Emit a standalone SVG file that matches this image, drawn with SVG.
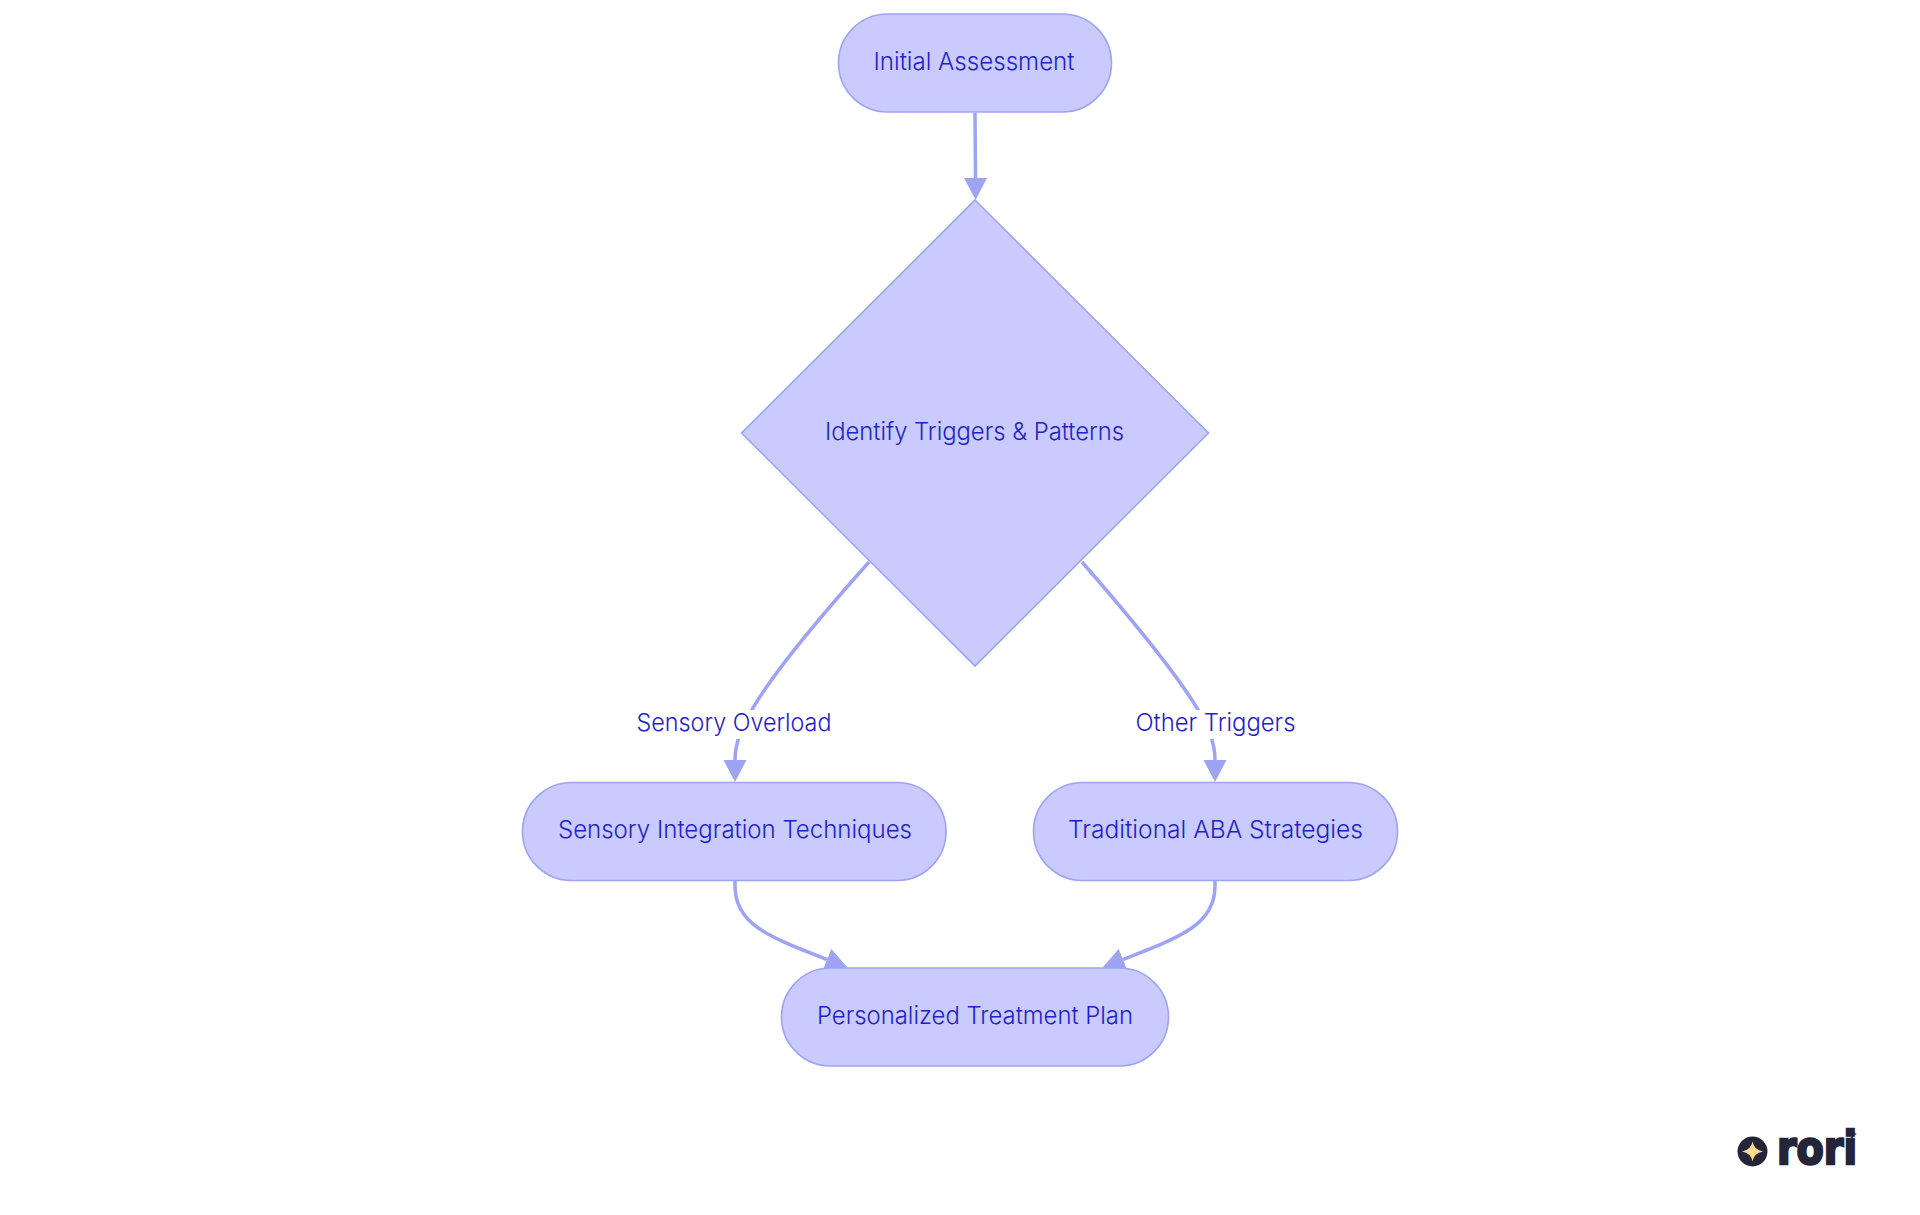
<svg xmlns="http://www.w3.org/2000/svg" width="1920" height="1215" viewBox="0 0 1920 1215">
<style>
.n{fill:#c9cbfe;stroke:#9ea3f4;stroke-width:1.6}
.e{fill:none;stroke:#9ea3f4;stroke-width:3.5}
.t{font-family:"Inter","Noto Sans","Liberation Sans",sans-serif;font-size:24px;fill:#1f22c8;font-weight:300}
.bg{fill:#fff}
</style>
<defs>
<marker id="arrow" markerUnits="userSpaceOnUse" viewBox="0 0 22 23" refX="0" refY="11.5" markerWidth="22" markerHeight="23" orient="auto">
<path d="M0,0L22,11.5L0,23Z" fill="#9ea3f4"/>
</marker>
</defs>
<rect width="1920" height="1215" fill="#fff"/>
<g id="connectors">
<path class="e" d="M975,113L975.500,178" marker-end="url(#arrow)"/>
<path class="e" d="M869,562C820,617 775,670 753,708C742,727 735,742 735,760" marker-end="url(#arrow)"/>
<path class="e" d="M1082,562C1130,617 1175,672 1197,708C1208,727 1215,742 1215,760" marker-end="url(#arrow)"/>
<path class="e" d="M735,881V886C735,925 770,937 827,959.500" marker-end="url(#arrow)"/>
<path class="e" d="M1215,881V886C1215,925 1180,937 1123,959.500" marker-end="url(#arrow)"/>
<g id="label-sensory-overload">
<rect class="bg" x="636" y="710" width="196" height="29"/>
<text class="t" x="636.500" y="731" textLength="195" lengthAdjust="spacingAndGlyphs">Sensory Overload</text>
</g>
<g id="label-other-triggers">
<rect class="bg" x="1135" y="710" width="161" height="29"/>
<text class="t" x="1135.500" y="731" textLength="160" lengthAdjust="spacingAndGlyphs">Other Triggers</text>
</g>
</g>
<g id="node-initial">
<rect class="n" x="838.500" y="14" width="273" height="98" rx="49"/>
<text class="t" x="873.500" y="70" textLength="201" lengthAdjust="spacingAndGlyphs">Initial Assessment</text>
</g>
<g id="node-identify">
<polygon class="n" points="975,200 1208.500,433 975,666 741.500,433"/>
<text class="t" x="825" y="440" textLength="299" lengthAdjust="spacingAndGlyphs">Identify Triggers &amp; Patterns</text>
</g>
<g id="node-sensory">
<rect class="n" x="522.500" y="782.500" width="423.500" height="98" rx="49"/>
<text class="t" x="558" y="838" textLength="354" lengthAdjust="spacingAndGlyphs">Sensory Integration Techniques</text>
</g>
<g id="node-aba">
<rect class="n" x="1033.500" y="782.500" width="364" height="98" rx="49"/>
<text class="t" x="1068" y="838" textLength="295" lengthAdjust="spacingAndGlyphs">Traditional ABA Strategies</text>
</g>
<g id="node-plan">
<rect class="n" x="781.500" y="968" width="387" height="98" rx="49"/>
<text class="t" x="817" y="1023.500" textLength="316" lengthAdjust="spacingAndGlyphs">Personalized Treatment Plan</text>
</g>
<g id="logo">
<circle cx="1752.500" cy="1151.500" r="15" fill="#25253a"/>
<path d="M1752.500,1141.500Q1754,1150 1763,1151.500Q1754,1153 1752.500,1161.500Q1751,1153 1742,1151.500Q1751,1150 1752.500,1141.500Z" fill="#fbdc8e"/>
<text x="1777" y="1164" font-family="DejaVu Sans" font-weight="700" font-size="46" textLength="80" lengthAdjust="spacingAndGlyphs" fill="#25253a" stroke="#25253a" stroke-width="2.500">rori</text>
<path d="M1852,1128Q1852.800,1133 1857,1134Q1852.800,1135 1852,1140Q1851.200,1135 1847,1134Q1851.200,1133 1852,1128Z" fill="#25253a"/>
</g>
</svg>
